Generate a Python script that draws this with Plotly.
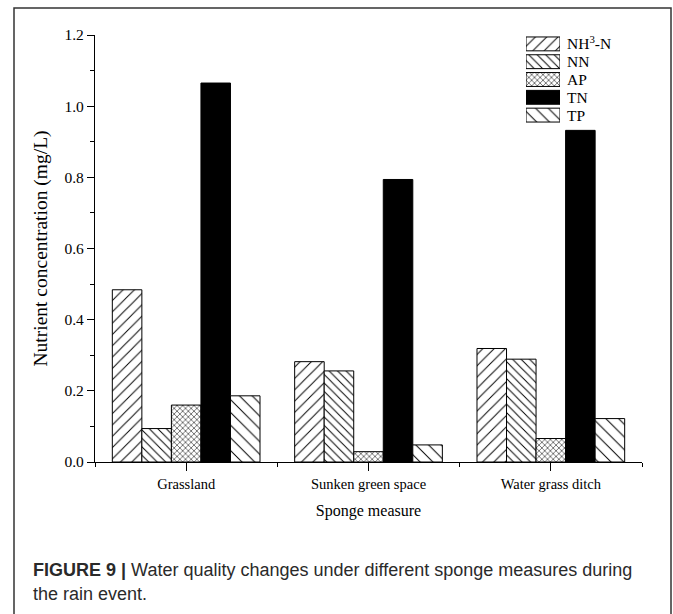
import plotly.graph_objects as go

categories = ["Grassland", "Sunken green space", "Water grass ditch"]
series_names = ["NH<sup>3</sup>-N", "NN", "AP", "TN", "TP"]
nh3n = [0.484, 0.282, 0.319]
nn = [0.094, 0.256, 0.289]
ap = [0.160, 0.029, 0.066]
tn = [1.065, 0.794, 0.932]
tp = [0.186, 0.048, 0.122]
series_values = [nh3n, nn, ap, tn, tp]
y_ticks = [0.0, 0.2, 0.4, 0.6, 0.8, 1.0, 1.2]

patterns = [
    dict(shape="/", size=8, solidity=0.12),
    dict(shape="\\", size=6, solidity=0.16),
    dict(shape="x", size=4, solidity=0.25),
    dict(shape="", size=8, solidity=0.2),
    dict(shape="\\", size=9, solidity=0.11),
]
fills = ["white", "white", "white", "black", "white"]

SERIF = "Liberation Serif"
W, H = 673, 614
L, R, T, B = 95, 31, 35, 152
pw, ph = W - L - R, H - T - B

def px_x(x):
    return (x - L) / pw

def px_y(y):
    return (H - B - y) / ph

def make_marker(pat, fc):
    marker = dict(color=fc, line=dict(color="black", width=1))
    if pat["shape"]:
        marker["pattern"] = dict(shape=pat["shape"], size=pat["size"], solidity=pat["solidity"],
                                 fgcolor="black", bgcolor="white", fillmode="replace")
    return marker

fig = go.Figure()
xpos = list(range(len(categories)))
for name, vals, pat, fc in zip(series_names, series_values, patterns, fills):
    fig.add_trace(go.Bar(x=xpos, y=vals, name=name, marker=make_marker(pat, fc), showlegend=False))

# legend drawn as an inset axis of horizontal swatches
for name, pat, fc in zip(series_names, patterns, fills):
    fig.add_trace(go.Bar(y=[name], x=[1], orientation="h", marker=make_marker(pat, fc), width=0.78,
                         xaxis="x2", yaxis="y2", showlegend=False, hoverinfo="skip"))

fig.update_layout(
    width=W, height=H,
    margin=dict(l=L, r=R, t=T, b=B),
    paper_bgcolor="white", plot_bgcolor="white",
    barmode="group", bargap=0.19, bargroupgap=0,
    font=dict(family=SERIF, size=14, color="black"),
    showlegend=False,
    xaxis=dict(
        range=[-0.5, 2.5], tickvals=xpos, ticktext=categories,
        showline=True, linecolor="black", linewidth=1.3,
        ticks="outside", ticklen=8, tickwidth=1.3, tickcolor="black",
        minor=dict(tickvals=[-0.5, 0.5, 1.5, 2.5], ticks="outside", ticklen=4,
                   tickwidth=1.3, tickcolor="black"),
        showgrid=False, zeroline=False,
        tickfont=dict(family=SERIF, size=14.5),
        title=dict(text="Sponge measure", font=dict(family=SERIF, size=16), standoff=14),
    ),
    yaxis=dict(
        range=[0, 1.2], tickvals=y_ticks, ticktext=[f"{v:.1f}" for v in y_ticks],
        showline=True, linecolor="black", linewidth=1.3,
        ticks="outside", ticklen=7, tickwidth=1.3, tickcolor="black",
        minor=dict(dtick=0.1, tick0=0, ticks="outside", ticklen=4, tickwidth=1.3, tickcolor="black"),
        showgrid=False, zeroline=False,
        tickfont=dict(family=SERIF, size=15.5),
        title=dict(text="Nutrient concentration (mg/L)", font=dict(family=SERIF, size=19.5), standoff=11),
    ),
    xaxis2=dict(domain=[px_x(526), px_x(560)], anchor="y2", range=[0, 1],
                visible=False, fixedrange=True),
    yaxis2=dict(domain=[px_y(124), 1.0], anchor="x2", side="right",
                tickmode="array", tickvals=series_names, ticktext=series_names,
                autorange="reversed", showline=False, showgrid=False, zeroline=False,
                ticks="", ticklabelstandoff=6,
                tickfont=dict(family=SERIF, size=15.5)),
)

# outer frame of the figure panel
fig.add_shape(type="rect", xref="paper", yref="paper",
              x0=px_x(14), x1=px_x(671), y0=px_y(630), y1=px_y(8),
              line=dict(color="#333333", width=1.5), fillcolor="rgba(0,0,0,0)", layer="below")

cap_font = dict(family="Liberation Sans", size=18, color="#2a2a2a")
fig.add_annotation(xref="paper", yref="paper", x=px_x(31), y=px_y(570), xanchor="left", yanchor="middle",
                   text="<b>FIGURE 9 |</b> Water quality changes under different sponge measures during",
                   showarrow=False, font=cap_font)
fig.add_annotation(xref="paper", yref="paper", x=px_x(31), y=px_y(594), xanchor="left", yanchor="middle",
                   text="the rain event.", showarrow=False, font=cap_font)

fig.write_html("out.html")
